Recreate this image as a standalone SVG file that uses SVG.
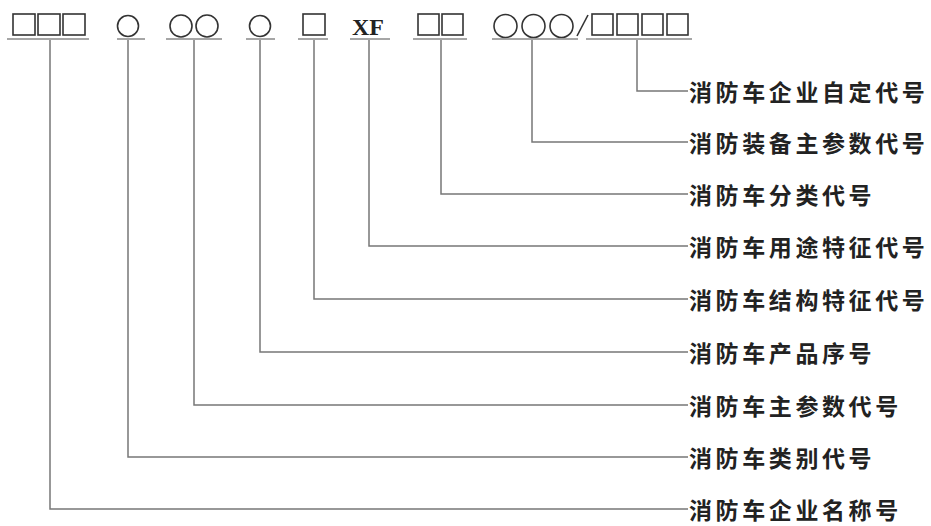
<svg xmlns="http://www.w3.org/2000/svg" width="931" height="526" viewBox="0 0 931 526">
<style>
.sym{fill:none;stroke:#333;stroke-width:1.6}
.ul{stroke:#888;stroke-width:1.5}
.con{fill:none;stroke:#777;stroke-width:1.5}
.lbl{font-family:"Noto Sans CJK SC","Noto Sans",sans-serif;font-size:23px;font-weight:700;fill:#222;letter-spacing:3.6px;dominant-baseline:central}
.xf{font-family:"Liberation Serif",serif;font-size:24px;font-weight:700;fill:#222}
</style>
<rect width="931" height="526" fill="#fff"/>
<g id="code">
<g id="s1"><rect class="sym" x="13" y="14" width="22" height="21"/><rect class="sym" x="38" y="14" width="22" height="21"/><rect class="sym" x="63" y="14" width="22" height="21"/><line class="ul" x1="7" y1="39" x2="89" y2="39"/></g>
<g id="s2"><circle class="sym" cx="128" cy="26" r="10.5"/><line class="ul" x1="117" y1="39" x2="145" y2="39"/></g>
<g id="s3"><circle class="sym" cx="181" cy="26" r="11"/><circle class="sym" cx="207" cy="26" r="11"/><line class="ul" x1="166" y1="39" x2="222" y2="39"/></g>
<g id="s4"><circle class="sym" cx="260" cy="26" r="10.5"/><line class="ul" x1="246" y1="39" x2="275" y2="39"/></g>
<g id="s5"><rect class="sym" x="303" y="14" width="22" height="21"/><line class="ul" x1="298" y1="39" x2="328" y2="39"/></g>
<g id="s6"><text class="xf" x="352" y="35">XF</text><line class="ul" x1="350" y1="39" x2="390" y2="39"/></g>
<g id="s7"><rect class="sym" x="418" y="14" width="21" height="21"/><rect class="sym" x="442" y="14" width="21" height="21"/><line class="ul" x1="413" y1="39" x2="467" y2="39"/></g>
<g id="s8"><circle class="sym" cx="505.5" cy="26" r="11.5"/><circle class="sym" cx="533.5" cy="26" r="11.5"/><circle class="sym" cx="561.5" cy="26" r="11.5"/><line class="sym" x1="577" y1="36" x2="588" y2="15"/><line class="ul" x1="492" y1="39" x2="578" y2="39"/></g>
<g id="s9"><rect class="sym" x="592" y="14" width="21" height="21"/><rect class="sym" x="617" y="14" width="21" height="21"/><rect class="sym" x="642" y="14" width="21" height="21"/><rect class="sym" x="667" y="14" width="21" height="21"/><line class="ul" x1="586" y1="39" x2="692" y2="39"/></g>
</g>
<g id="connectors">
<polyline class="con" points="637,40 637,91 688,91"/>
<polyline class="con" points="532,40 532,142 688,142"/>
<polyline class="con" points="441,40 441,194 688,194"/>
<polyline class="con" points="369,40 369,246 688,246"/>
<polyline class="con" points="314,40 314,299 688,299"/>
<polyline class="con" points="260,40 260,352 688,352"/>
<polyline class="con" points="194,40 194,405 688,405"/>
<polyline class="con" points="128,40 128,457 688,457"/>
<polyline class="con" points="50,40 50,509 688,509"/>
</g>
<g id="labels">
<g id="l1"><text class="lbl" x="689" y="91">消防车企业自定代号</text></g>
<g id="l2"><text class="lbl" x="689" y="142">消防装备主参数代号</text></g>
<g id="l3"><text class="lbl" x="689" y="194">消防车分类代号</text></g>
<g id="l4"><text class="lbl" x="689" y="246">消防车用途特征代号</text></g>
<g id="l5"><text class="lbl" x="689" y="299">消防车结构特征代号</text></g>
<g id="l6"><text class="lbl" x="689" y="352">消防车产品序号</text></g>
<g id="l7"><text class="lbl" x="689" y="405">消防车主参数代号</text></g>
<g id="l8"><text class="lbl" x="689" y="457">消防车类别代号</text></g>
<g id="l9"><text class="lbl" x="689" y="509">消防车企业名称号</text></g>
</g>
</svg>
